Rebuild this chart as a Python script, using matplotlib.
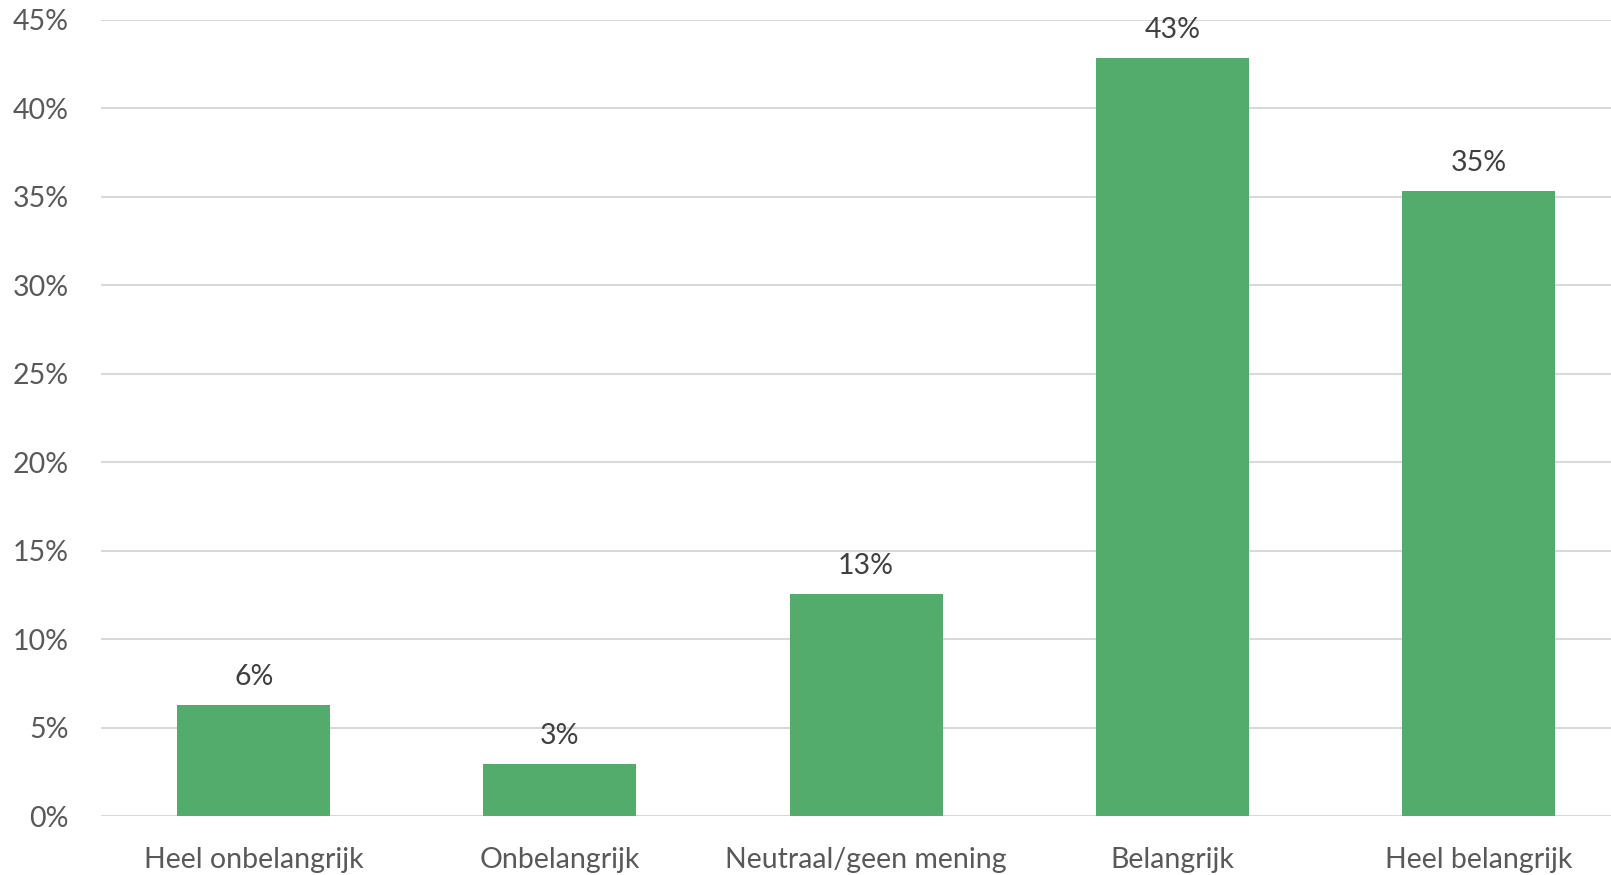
import matplotlib.pyplot as plt
from matplotlib.ticker import PercentFormatter

categories = ["Heel onbelangrijk", "Onbelangrijk", "Neutraal/geen mening", "Belangrijk", "Heel belangrijk"]
values = [6.27, 2.93, 12.55, 42.8, 35.3]
labels = ["6%", "3%", "13%", "43%", "35%"]

plt.rcParams['font.family'] = ['Lato', 'DejaVu Sans']

fig = plt.figure(figsize=(16.11, 8.75), dpi=100)
ax = fig.add_axes([0.0625, 0.0674, 0.9375, 0.9103])

x = range(len(categories))
bars = ax.bar(x, values, width=0.5, color="#53AC6C", zorder=3)

for b, lab in zip(bars, labels):
    ax.annotate(lab, (b.get_x() + b.get_width() / 2, b.get_height()),
                xytext=(0, 11), textcoords="offset points",
                ha="center", va="bottom", fontsize=20.5, color="#404040")

ax.set_ylim(0, 45)
ax.set_xlim(-0.5, 4.433)
ax.set_yticks(range(0, 46, 5))
ax.yaxis.set_major_formatter(PercentFormatter(decimals=0))
ax.set_xticks(list(x))
ax.set_xticklabels(categories)
ax.tick_params(axis="both", length=0, labelsize=20.5, colors="#595959")
ax.tick_params(axis="y", pad=23)
ax.tick_params(axis="x", pad=22)
ax.grid(axis="y", color="#D9D9D9", linewidth=1.5, zorder=0)
for s in ax.spines.values():
    s.set_visible(False)

fig.savefig("out.png")
